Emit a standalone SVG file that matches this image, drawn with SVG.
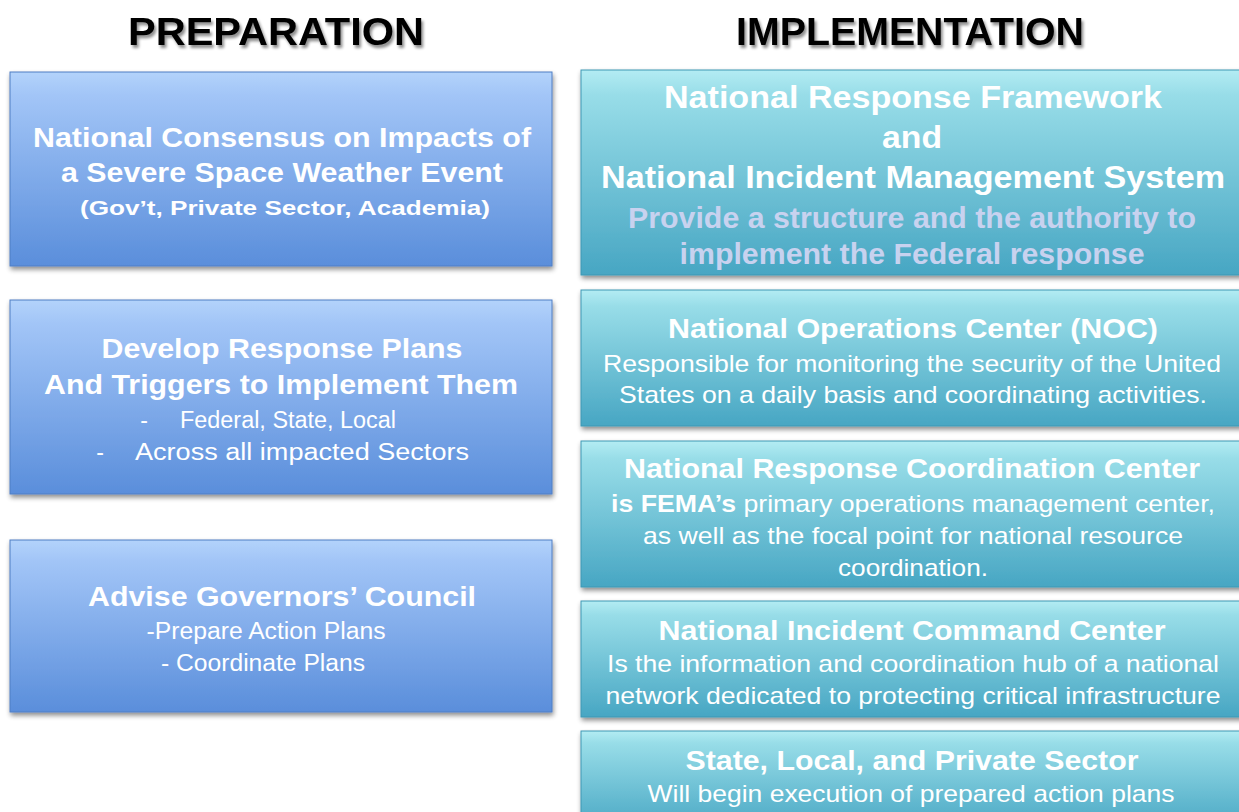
<svg xmlns="http://www.w3.org/2000/svg" width="1239" height="812" viewBox="0 0 1239 812">
<defs>
<linearGradient id="gL" x1="0" y1="0" x2="0" y2="1">
<stop offset="0" stop-color="#b3d3fb"/>
<stop offset="0.12" stop-color="#a2c5f7"/>
<stop offset="1" stop-color="#5a8edb"/>
</linearGradient>
<linearGradient id="gR" x1="0" y1="0" x2="0" y2="1">
<stop offset="0" stop-color="#b3ecf3"/>
<stop offset="0.12" stop-color="#98dde8"/>
<stop offset="1" stop-color="#47a6c3"/>
</linearGradient>
<filter id="sh" x="-5%" y="-5%" width="110%" height="120%">
<feGaussianBlur in="SourceAlpha" stdDeviation="2.5"/>
<feOffset dx="1" dy="3" result="b"/>
<feComponentTransfer><feFuncA type="linear" slope="0.45"/></feComponentTransfer>
<feMerge><feMergeNode/><feMergeNode in="SourceGraphic"/></feMerge>
</filter>
<filter id="tsh" x="-5%" y="-20%" width="110%" height="150%">
<feGaussianBlur in="SourceAlpha" stdDeviation="1.5"/>
<feOffset dx="2" dy="3"/>
<feComponentTransfer><feFuncA type="linear" slope="0.45"/></feComponentTransfer>
<feMerge><feMergeNode/><feMergeNode in="SourceGraphic"/></feMerge>
</filter>
</defs>
<style>
.bl{fill:url(#gL);stroke:#4f7fc4;stroke-width:1}
.br{fill:url(#gR);stroke:#3f98b4;stroke-width:1}
text{font-family:"Liberation Sans",Arial,sans-serif;text-anchor:middle;fill:#ffffff}
.b{font-weight:bold}
.t{font-weight:bold;fill:#000000;font-size:39px}
.lav{fill:#c8d2ef}
</style>
<rect width="1239" height="812" fill="#ffffff"/>
<g id="titles" filter="url(#tsh)">
<text class="t" x="276" y="45" textLength="296" lengthAdjust="spacingAndGlyphs">PREPARATION</text>
<text class="t" x="910" y="45" textLength="348" lengthAdjust="spacingAndGlyphs">IMPLEMENTATION</text>
</g>
<g id="prep1">
<rect class="bl" x="10" y="72" width="542" height="194" filter="url(#sh)"/>
<text class="b" x="282" y="147" font-size="28" textLength="498" lengthAdjust="spacingAndGlyphs">National Consensus on Impacts of</text>
<text class="b" x="282" y="182" font-size="28" textLength="442" lengthAdjust="spacingAndGlyphs">a Severe Space Weather Event</text>
<text class="b" x="285" y="215" font-size="21" textLength="410" lengthAdjust="spacingAndGlyphs">(Gov’t, Private Sector, Academia)</text>
</g>
<g id="prep2">
<rect class="bl" x="10" y="300" width="542" height="194" filter="url(#sh)"/>
<text class="b" x="282" y="358" font-size="28" textLength="361" lengthAdjust="spacingAndGlyphs">Develop Response Plans</text>
<text class="b" x="281" y="394" font-size="28" textLength="474" lengthAdjust="spacingAndGlyphs">And Triggers to Implement Them</text>
<text x="144" y="428" font-size="23">-</text>
<text x="288" y="428" font-size="23" textLength="216" lengthAdjust="spacingAndGlyphs">Federal, State, Local</text>
<text x="100" y="460" font-size="23">-</text>
<text x="302" y="460" font-size="23" textLength="334" lengthAdjust="spacingAndGlyphs">Across all  impacted Sectors</text>
</g>
<g id="prep3">
<rect class="bl" x="10" y="540" width="542" height="172" filter="url(#sh)"/>
<text class="b" x="282" y="606" font-size="28" textLength="388" lengthAdjust="spacingAndGlyphs">Advise Governors’ Council</text>
<text x="266" y="639" font-size="23" textLength="239" lengthAdjust="spacingAndGlyphs">-Prepare Action Plans</text>
<text x="263" y="671" font-size="23" textLength="204" lengthAdjust="spacingAndGlyphs">- Coordinate Plans</text>
</g>
<g id="impl1">
<rect class="br" x="581" y="70" width="670" height="205" filter="url(#sh)"/>
<text class="b" x="913" y="108" font-size="31" textLength="498" lengthAdjust="spacingAndGlyphs">National Response Framework</text>
<text class="b" x="912" y="148" font-size="31" textLength="60" lengthAdjust="spacingAndGlyphs">and</text>
<text class="b" x="913" y="188" font-size="31" textLength="624" lengthAdjust="spacingAndGlyphs">National Incident Management System</text>
<text class="b lav" x="912" y="228" font-size="29" textLength="568" lengthAdjust="spacingAndGlyphs">Provide a structure and the authority to</text>
<text class="b lav" x="912" y="264" font-size="29" textLength="465" lengthAdjust="spacingAndGlyphs">implement the Federal response</text>
</g>
<g id="impl2">
<rect class="br" x="581" y="290" width="670" height="136" filter="url(#sh)"/>
<text class="b" x="913" y="338" font-size="28" textLength="490" lengthAdjust="spacingAndGlyphs">National Operations Center (NOC)</text>
<text x="912" y="372" font-size="24" textLength="618" lengthAdjust="spacingAndGlyphs">Responsible for monitoring the security of the United</text>
<text x="913" y="403" font-size="24" textLength="588" lengthAdjust="spacingAndGlyphs">States on a daily basis and coordinating activities.</text>
</g>
<g id="impl3">
<rect class="br" x="581" y="441" width="670" height="146" filter="url(#sh)"/>
<text class="b" x="912" y="478" font-size="28" textLength="576" lengthAdjust="spacingAndGlyphs">National Response Coordination Center</text>
<text x="913" y="512" font-size="24" textLength="604" lengthAdjust="spacingAndGlyphs"><tspan class="b">is FEMA’s</tspan> primary operations management center,</text>
<text x="913" y="544" font-size="24" textLength="540" lengthAdjust="spacingAndGlyphs">as well as the focal point for national resource</text>
<text x="913" y="576" font-size="24" textLength="150" lengthAdjust="spacingAndGlyphs">coordination.</text>
</g>
<g id="impl4">
<rect class="br" x="581" y="601" width="670" height="116" filter="url(#sh)"/>
<text class="b" x="912" y="640" font-size="28" textLength="507" lengthAdjust="spacingAndGlyphs">National Incident Command Center</text>
<text x="913" y="672" font-size="24" textLength="612" lengthAdjust="spacingAndGlyphs">Is the information and coordination hub of a national</text>
<text x="913" y="704" font-size="24" textLength="615" lengthAdjust="spacingAndGlyphs">network dedicated to protecting critical infrastructure</text>
</g>
<g id="impl5">
<rect class="br" x="581" y="731" width="670" height="100" filter="url(#sh)"/>
<text class="b" x="912" y="770" font-size="28" textLength="453" lengthAdjust="spacingAndGlyphs">State, Local, and Private Sector</text>
<text x="911" y="802" font-size="24" textLength="527" lengthAdjust="spacingAndGlyphs">Will begin execution of prepared action plans</text>
</g>
<g id="connectors"></g>
</svg>
